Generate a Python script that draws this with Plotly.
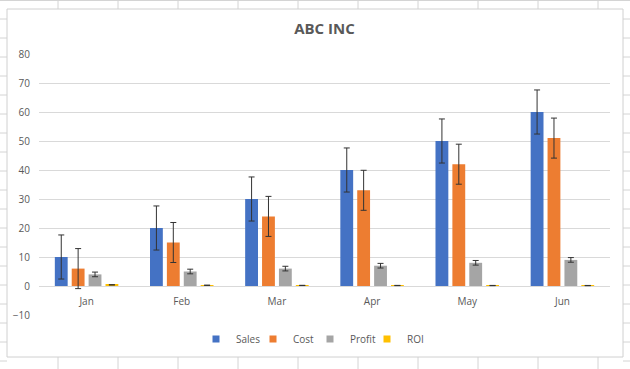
import plotly.graph_objects as go

months = ["Jan", "Feb", "Mar", "Apr", "May", "Jun"]
sales = [10, 20, 30, 40, 50, 60]
cost = [6, 15, 24, 33, 42, 51]
profit = [4, 5, 6, 7, 8, 9]
roi = [0.4, 0.25, 0.2, 0.175, 0.16, 0.15]
sales_err = 7.6
cost_err = 6.9
profit_err = 0.8
roi_err = 0.04
y_ticks = [-10, 0, 10, 20, 30, 40, 50, 60, 70, 80]

W, H = 630, 369
L, R, T, B = 39, 20, 54, 54
PW, PH = W - L - R, H - T - B

def px(x):
    return (x - L) / PW

def py(y):
    return (H - B - y) / PH

TXT = "#595959"
FONT = "Open Sans"

fig = go.Figure()
series = [
    ("Sales", sales, sales_err, "#4472C4"),
    ("Cost", cost, cost_err, "#ED7D31"),
    ("Profit", profit, profit_err, "#A5A5A5"),
    ("ROI", roi, roi_err, "#FFC000"),
]
for name, vals, err, col in series:
    fig.add_trace(go.Bar(
        x=months, y=vals, name=name, marker_color=col,
        marker_line_width=0, showlegend=False, legendgroup=name,
        error_y=dict(type="constant", value=err, color="#333333",
                     thickness=1, width=3),
    ))
# small square legend keys
for name, vals, err, col in series:
    fig.add_trace(go.Scatter(
        x=[None], y=[None], mode="markers", name=name, legendgroup=name,
        marker=dict(symbol="square", size=7, color=col),
    ))

# spreadsheet background decoration
shapes = []
grid = "#d4d4d4"
for gx in range(58, 630, 60):
    shapes.append(dict(type="line", xref="paper", yref="paper",
                       x0=px(gx), x1=px(gx), y0=py(0), y1=py(9),
                       line=dict(color=grid, width=1), layer="below"))
    shapes.append(dict(type="line", xref="paper", yref="paper",
                       x0=px(gx), x1=px(gx), y0=py(357), y1=py(369),
                       line=dict(color=grid, width=1), layer="below"))
for gy in range(0, 370, 19):
    shapes.append(dict(type="line", xref="paper", yref="paper",
                       x0=px(0), x1=px(7), y0=py(gy), y1=py(gy),
                       line=dict(color=grid, width=1), layer="below"))
    shapes.append(dict(type="line", xref="paper", yref="paper",
                       x0=px(623), x1=px(630), y0=py(gy), y1=py(gy),
                       line=dict(color=grid, width=1), layer="below"))
shapes.append(dict(type="line", xref="paper", yref="paper",
                   x0=px(0), x1=px(630), y0=py(0.5), y1=py(0.5),
                   line=dict(color=grid, width=1), layer="below"))
shapes.append(dict(type="rect", xref="paper", yref="paper",
                   x0=px(7), x1=px(623), y0=py(357), y1=py(9),
                   line=dict(color="#d0d0d0", width=1),
                   fillcolor="rgba(0,0,0,0)", layer="below"))
fig.update_layout(shapes=shapes)

fig.update_layout(
    width=W, height=H,
    margin=dict(l=L, r=R, t=T, b=B, autoexpand=False),
    paper_bgcolor="white", plot_bgcolor="white",
    barmode="group", bargap=0.29, bargroupgap=0.24,
    font=dict(family=FONT, color=TXT, size=10),
    title=dict(text="<b>ABC INC</b>", x=0.5, xref="paper",
               y=1 - 29 / H, yanchor="middle", xanchor="center",
               font=dict(family=FONT, size=15, color=TXT)),
    legend=dict(orientation="h", x=px(310), xanchor="center",
                y=py(339), yanchor="middle",
                font=dict(family=FONT, size=10, color=TXT),
                itemwidth=30, entrywidth=12, entrywidthmode="pixels",
                traceorder="normal", bgcolor="rgba(0,0,0,0)"),
    showlegend=True,
)
fig.update_xaxes(anchor="free", position=1 / 9, showline=False,
                 ticks="", showgrid=False, tickfont=dict(size=10, color=TXT),
                 ticklabelstandoff=8)
fig.update_yaxes(range=[-10, 80], tickvals=y_ticks, showgrid=True,
                 gridcolor="#d9d9d9", gridwidth=1, zeroline=True,
                 zerolinecolor="#d9d9d9", zerolinewidth=1, showline=False,
                 ticks="", tickfont=dict(size=10, color=TXT),
                 ticklabelstandoff=8, fixedrange=True)

fig.write_html("out.html", config={"displayModeBar": False},
               post_script="document.body.style.margin='0';document.body.style.padding='0';")
